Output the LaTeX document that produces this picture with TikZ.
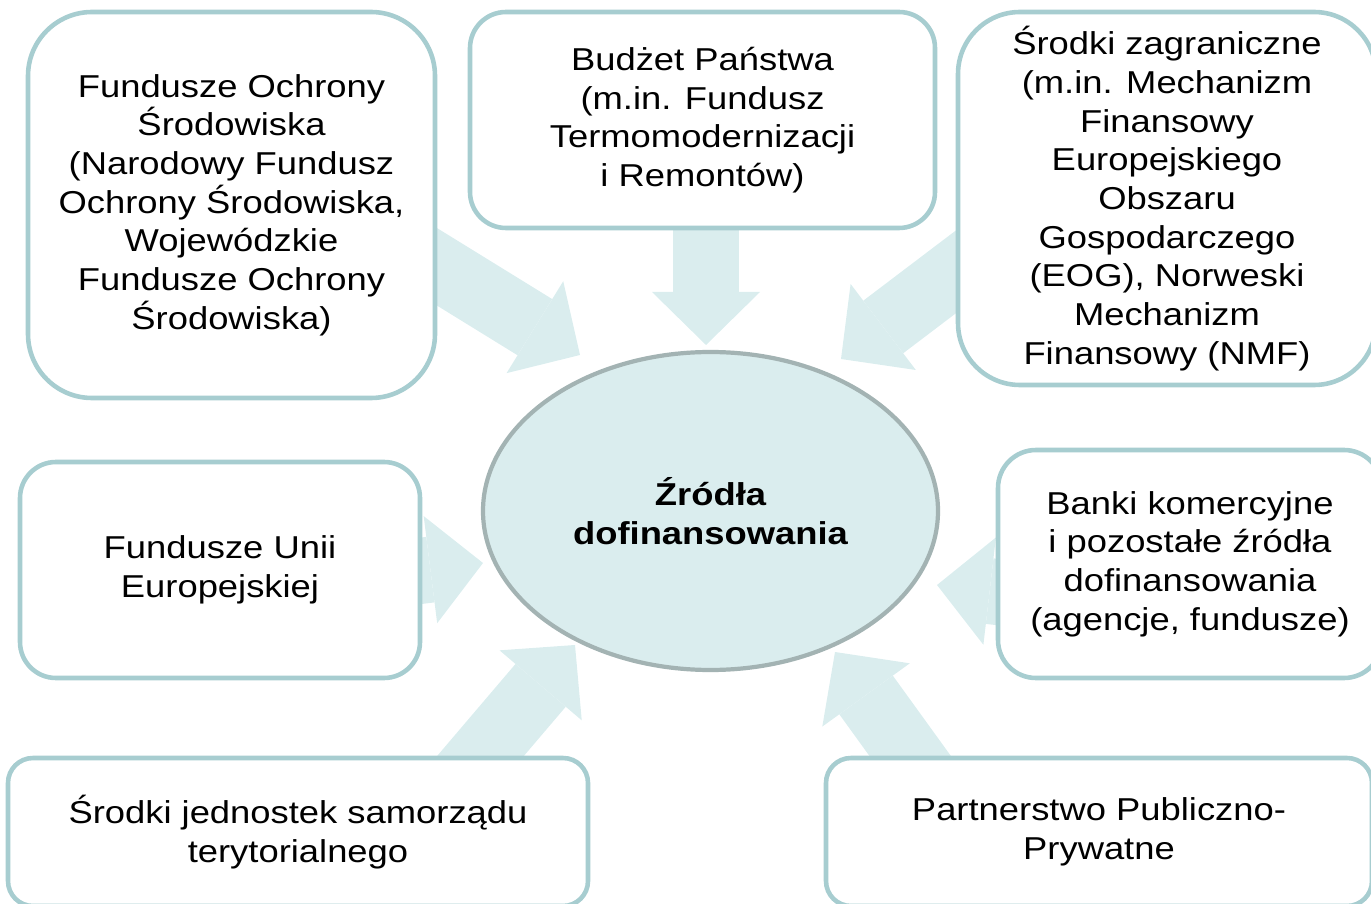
\documentclass[tikz,border=0pt]{standalone}
\usepackage{fontspec}
\setmainfont{Liberation Sans}[FakeStretch=1.15]
\usetikzlibrary{shapes,arrows.meta,positioning,backgrounds}
\definecolor{boxline}{HTML}{A7CDD0}
\definecolor{flowfill}{HTML}{DAEDEE}
\definecolor{hubline}{HTML}{A3B3B3}

\begin{document}
\begin{tikzpicture}
  \tikzstyle{source}=[rectangle, draw=boxline, line width=2.6pt, fill=white, align=center, inner sep=0pt, font=\fontsize{18}{22}\selectfont]
  \tikzstyle{hub}=[ellipse, draw=hubline, line width=2.4pt, fill=flowfill, align=center, inner sep=0pt, minimum width=9.1cm, minimum height=6.36cm, font=\fontsize{18}{22}\selectfont\bfseries]
  \tikzstyle{flow}=[line width=1.32cm, draw=flowfill, -{Triangle[length=1.06cm, width=2.16cm, line width=0pt]}]

  \useasboundingbox (0,0) rectangle (27.42,18.06);

  % Srodek
  \node[hub] (zrodla) at (14.21,7.84) {Źródła\\dofinansowania};

  % Zrodla
  \node[source, minimum width=8.14cm, minimum height=7.72cm, rounded corners=1.28cm] (fos) at (4.63,13.96)
    {Fundusze Ochrony\\Środowiska\\(Narodowy Fundusz\\Ochrony Środowiska,\\Wojewódzkie\\Fundusze Ochrony\\Środowiska)};
  \node[source, minimum width=9.30cm, minimum height=4.32cm, rounded corners=0.72cm] (budzet) at (14.05,15.66)
    {Budżet Państwa\\(m.in. Fundusz\\Termomodernizacji\\i Remontów)};
  \node[source, minimum width=8.36cm, minimum height=7.46cm, rounded corners=1.24cm] (zagr) at (23.34,14.09)
    {Środki zagraniczne\\(m.in. Mechanizm\\Finansowy\\Europejskiego\\Obszaru\\Gospodarczego\\(EOG), Norweski\\Mechanizm\\Finansowy (NMF)};
  \node[source, minimum width=8.00cm, minimum height=4.32cm, rounded corners=0.72cm] (unia) at (4.40,6.66)
    {Fundusze Unii\\Europejskiej};
  \node[source, minimum width=7.68cm, minimum height=4.56cm, rounded corners=0.76cm] (banki) at (23.80,6.78)
    {Banki komercyjne\\i pozostałe źródła\\dofinansowania\\(agencje, fundusze)};
  \node[source, minimum width=11.6cm, minimum height=2.96cm, rounded corners=0.5cm] (jst) at (5.96,1.42)
    {Środki jednostek samorządu\\terytorialnego};
  \node[source, minimum width=10.92cm, minimum height=2.96cm, rounded corners=0.5cm] (ppp) at (21.98,1.42)
    {Partnerstwo Publiczno-\\Prywatne};

  % Konce strzalek
  \coordinate (fos-out) at (8.00,13.18);   \coordinate (fos-in) at (11.60,10.96);
  \coordinate (budzet-out) at (14.12,14.06); \coordinate (budzet-in) at (14.12,11.16);
  \coordinate (zagr-out) at (19.80,13.14);  \coordinate (zagr-in) at (16.82,10.88);
  \coordinate (unia-out) at (7.60,6.54);    \coordinate (unia-in) at (9.66,6.80);
  \coordinate (banki-out) at (20.80,6.12);  \coordinate (banki-in) at (18.74,6.36);
  \coordinate (jst-out) at (8.86,2.06);     \coordinate (jst-in) at (11.50,5.16);
  \coordinate (ppp-out) at (18.84,2.06);    \coordinate (ppp-in) at (16.70,5.02);

  % Strzalki
  \begin{scope}[on background layer]
    \foreach \src in {fos, budzet, zagr, unia, banki, jst, ppp}
      \draw[flow] (\src-out) -- (\src-in);
  \end{scope}
\end{tikzpicture}
\end{document}
